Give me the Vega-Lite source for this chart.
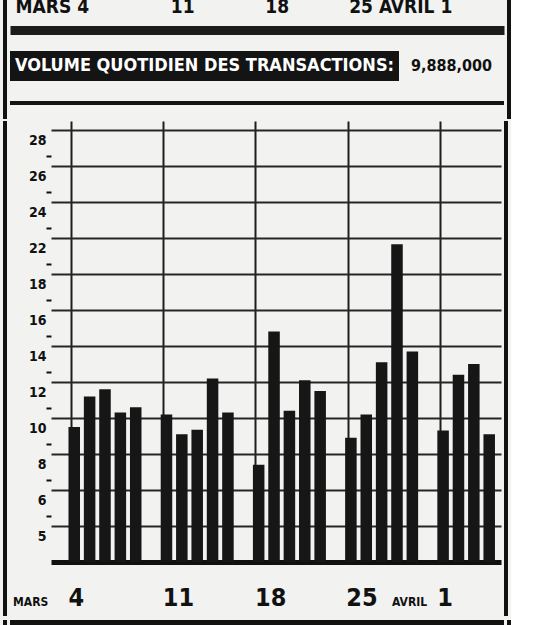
{
  "$schema": "https://vega.github.io/schema/vega-lite/v6.json",
  "background": "#f2f2f0",
  "padding": {"left": 3, "top": -8, "right": 0, "bottom": 0},
  "spacing": 0,
  "config": {
    "view": {"stroke": null},
    "concat": {"spacing": 0},
    "font": "DejaVu Sans Condensed, sans-serif"
  },
  "datasets": {
    "volume": [
      {"jour": "4 mars", "volume": 9.5},
      {"jour": "5 mars", "volume": 11.2},
      {"jour": "6 mars", "volume": 11.6},
      {"jour": "7 mars", "volume": 10.3},
      {"jour": "8 mars", "volume": 10.6},
      {"jour": "11 mars", "volume": 10.2},
      {"jour": "12 mars", "volume": 9.1},
      {"jour": "13 mars", "volume": 9.35},
      {"jour": "14 mars", "volume": 12.2},
      {"jour": "15 mars", "volume": 10.3},
      {"jour": "18 mars", "volume": 7.4},
      {"jour": "19 mars", "volume": 14.8},
      {"jour": "20 mars", "volume": 10.4},
      {"jour": "21 mars", "volume": 12.1},
      {"jour": "22 mars", "volume": 11.5},
      {"jour": "25 mars", "volume": 8.9},
      {"jour": "26 mars", "volume": 10.2},
      {"jour": "27 mars", "volume": 13.1},
      {"jour": "28 mars", "volume": 21.3},
      {"jour": "29 mars", "volume": 13.7},
      {"jour": "1 avril", "volume": 9.3},
      {"jour": "2 avril", "volume": 12.4},
      {"jour": "3 avril", "volume": 13.0},
      {"jour": "4 avril", "volume": 9.1}
    ],
    "tete": [
      {"lab": "MARS 4"},
      {"lab": "11"},
      {"lab": "18"},
      {"lab": "25 AVRIL 1"}
    ],
    "titre": [
      {"t": "VOLUME QUOTIDIEN DES TRANSACTIONS:", "v": "9,888,000"}
    ]
  },
  "vconcat": [
    {
      "spacing": 3,
      "hconcat": [
        {
          "data": {"name": "titre"},
          "width": 4, "height": 127,
          "view": {"fill": "#121212", "stroke": null},
          "mark": {"type": "text"},
          "encoding": {"text": {"value": ""}}
        },
        {
          "spacing": 0,
          "vconcat": [
            {
              "data": {"name": "tete"},
              "width": 494, "height": 38,
              "mark": {"type": "text"},
              "encoding": {
                "text": {"value": ""},
                "x": {
                  "field": "lab", "type": "ordinal", "sort": null,
                  "scale": {"type": "point", "padding": 0.5},
                  "axis": {
                    "orient": "bottom",
                    "title": null,
                    "domain": true,
                    "domainColor": "#1c1c1c",
                    "domainWidth": 9,
                    "domainCap": "butt",
                    "ticks": false,
                    "tickSize": 0,
                    "labelAngle": 0,
                    "labelPadding": -18,
                    "labelBaseline": "alphabetic",
                    "labelFontSize": 19,
                    "labelFontWeight": "bold",
                    "labelColor": "#111111",
                    "labelOffset": {
                      "condition": [
                        {"test": "datum.value === 'MARS 4'", "value": -20},
                        {"test": "datum.value === '11'", "value": -13}
                      ],
                      "value": -42
                    }
                  }
                }
              }
            },
            {
              "data": {"name": "titre"},
              "width": 494, "height": 21,
              "mark": {"type": "text"},
              "encoding": {"text": {"value": ""}}
            },
            {
              "data": {"name": "titre"},
              "spacing": 0,
              "hconcat": [
                {
                  "width": 389, "height": 30,
                  "view": {"fill": "#141414", "stroke": null},
                  "mark": {"type": "text", "color": "#ffffff", "fontSize": 18, "fontWeight": "bold"},
                  "encoding": {"text": {"field": "t"}}
                },
                {
                  "width": 105, "height": 30,
                  "mark": {"type": "text", "color": "#111111", "fontSize": 16, "fontWeight": "bold"},
                  "encoding": {"text": {"field": "v"}}
                }
              ]
            },
            {
              "data": {"name": "titre"},
              "width": 494, "height": 16,
              "mark": {"type": "text"},
              "encoding": {"text": {"value": ""}}
            },
            {
              "data": {"name": "titre"},
              "width": 494, "height": 4,
              "view": {"fill": "#141414", "stroke": null},
              "mark": {"type": "text"},
              "encoding": {"text": {"value": ""}}
            },
            {
              "data": {"name": "titre"},
              "width": 494, "height": 13,
              "mark": {"type": "text"},
              "encoding": {"text": {"value": ""}}
            }
          ]
        },
        {
          "data": {"name": "titre"},
          "width": 4, "height": 127,
          "view": {"fill": "#121212", "stroke": null},
          "mark": {"type": "text"},
          "encoding": {"text": {"value": ""}}
        }
      ]
    },
    {
      "spacing": 3,
      "hconcat": [
        {
          "data": {"name": "titre"},
          "width": 4, "height": 495,
          "view": {"fill": "#121212", "stroke": null},
          "mark": {"type": "text"},
          "encoding": {"text": {"value": ""}}
        },
        {
          "data": {"name": "volume"},
          "width": 450,
          "height": 441,
          "layer": [
            {
              "mark": {"type": "bar", "color": "#161616"},
              "encoding": {
                "x": {
                  "field": "jour", "type": "ordinal", "sort": null,
                  "scale": {
                    "domain": ["2-3 mars", "4 mars", "5 mars", "6 mars", "7 mars", "8 mars", "9-10 mars", "11 mars", "12 mars", "13 mars", "14 mars", "15 mars", "16-17 mars", "18 mars", "19 mars", "20 mars", "21 mars", "22 mars", "23-24 mars", "25 mars", "26 mars", "27 mars", "28 mars", "29 mars", "30-31 mars", "1 avril", "2 avril", "3 avril", "4 avril"],
                    "paddingInner": 0.25,
                    "paddingOuter": 0.265,
                    "align": 0.26
                  },
                  "axis": {
                    "orient": "bottom",
                    "title": null,
                    "values": ["4 mars", "11 mars", "18 mars", "25 mars", "1 avril"],
                    "labelExpr": "split(datum.value, ' ')[0]",
                    "bandPosition": 0.26,
                    "grid": true,
                    "gridColor": "#1e1e1e",
                    "gridWidth": 2,
                    "domainColor": "#111111",
                    "domainWidth": 5,
                    "domainCap": "butt",
                    "ticks": false,
                    "tickSize": 0,
                    "labelAngle": 0,
                    "labelPadding": 43,
                    "labelBaseline": "alphabetic",
                    "labelFontSize": 25,
                    "labelFontWeight": "bold",
                    "labelColor": "#111111",
                    "labelOffset": {
                      "condition": [
                        {"test": "datum.value === '11 mars' || datum.value === '18 mars'", "value": 12},
                        {"test": "datum.value === '25 mars'", "value": 11}
                      ],
                      "value": 2
                    }
                  }
                },
                "y": {
                  "field": "volume", "type": "quantitative",
                  "scale": {
                    "domain": [0, 5, 6, 8, 10, 12, 14, 16, 18, 22, 24, 26, 28, 29],
                    "range": [441, 405, 369, 333, 297, 261, 225, 189, 153, 117, 81, 45, 9, 0],
                    "nice": false,
                    "zero": false
                  },
                  "axis": {
                    "orient": "left",
                    "title": null,
                    "values": [5, 6, 8, 10, 12, 14, 16, 18, 22, 24, 26, 28],
                    "domain": false,
                    "grid": false,
                    "ticks": true,
                    "tickSize": 5,
                    "tickWidth": 2,
                    "tickColor": "#111111",
                    "tickOffset": 26,
                    "tickOpacity": {"condition": {"test": "datum.value == 5", "value": 0}, "value": 1},
                    "labelOffset": -16,
                    "labelPadding": 0,
                    "labelFontSize": 14,
                    "labelFontWeight": "bold",
                    "labelColor": "#111111",
                    "minExtent": 41
                  }
                }
              }
            },
            {
              "mark": {"type": "tick", "opacity": 0},
              "encoding": {
                "x": {
                  "field": "jour", "type": "ordinal", "sort": null,
                  "axis": {
                    "orient": "bottom",
                    "title": null,
                    "values": ["4 mars", "1 avril"],
                    "labelExpr": "datum.value === '4 mars' ? 'MARS' : 'AVRIL'",
                    "grid": false,
                    "domain": false,
                    "ticks": false,
                    "tickSize": 0,
                    "labelAngle": 0,
                    "labelAlign": "right",
                    "labelPadding": 43,
                    "labelBaseline": "alphabetic",
                    "labelFontSize": 12,
                    "labelFontWeight": "bold",
                    "labelColor": "#111111",
                    "labelOffset": {
                      "condition": {"test": "datum.value === '4 mars'", "value": -26},
                      "value": -16
                    }
                  }
                },
                "y": {
                  "field": "volume", "type": "quantitative",
                  "axis": {
                    "orient": "left",
                    "title": null,
                    "values": [5, 6, 8, 10, 12, 14, 16, 18, 22, 24, 26, 28],
                    "domain": false,
                    "grid": true,
                    "gridColor": "#262626",
                    "gridWidth": 1.8,
                    "ticks": false,
                    "labels": false
                  }
                }
              }
            }
          ],
          "resolve": {"axis": {"x": "independent", "y": "independent"}}
        },
        {
          "data": {"name": "titre"},
          "width": 4, "height": 495,
          "view": {"fill": "#121212", "stroke": null},
          "mark": {"type": "text"},
          "encoding": {"text": {"value": ""}}
        }
      ]
    },
    {
      "data": {"name": "titre"},
      "spacing": 3,
      "hconcat": [
        {
          "width": 4, "height": 5,
          "view": {"fill": "#121212", "stroke": null},
          "mark": {"type": "text"},
          "encoding": {"text": {"value": ""}}
        },
        {
          "width": 494, "height": 5,
          "view": {"fill": "#121212", "stroke": null},
          "mark": {"type": "text"},
          "encoding": {"text": {"value": ""}}
        },
        {
          "width": 4, "height": 5,
          "view": {"fill": "#121212", "stroke": null},
          "mark": {"type": "text"},
          "encoding": {"text": {"value": ""}}
        }
      ]
    }
  ]
}
